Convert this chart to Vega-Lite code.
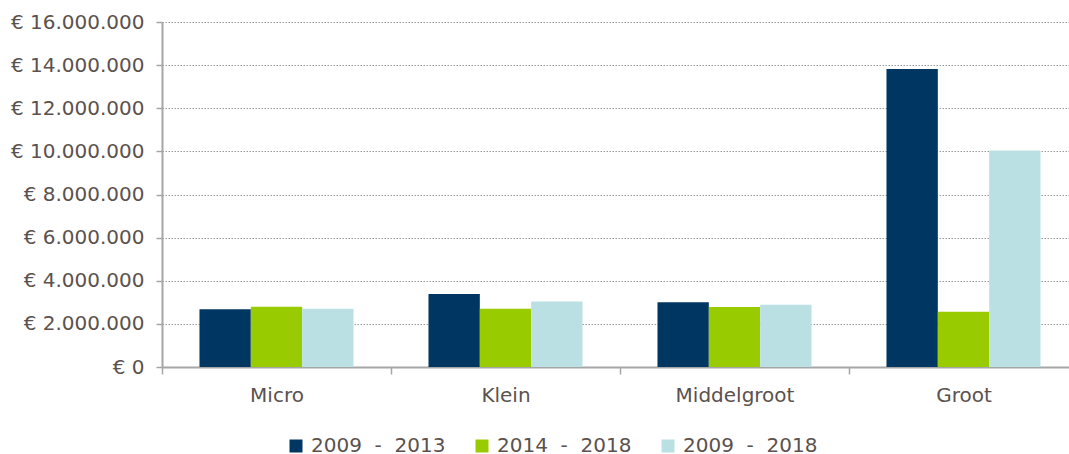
{
  "$schema": "https://vega.github.io/schema/vega-lite/v6.json",
  "width": 916,
  "height": 345,
  "autosize": {"type": "none"},
  "padding": {"left": 162, "top": 22, "right": 0, "bottom": 87},
  "background": "white",
  "data": {
    "values": [
      {"grootte": "Micro", "periode": "2009 - 2013", "bedrag": 2680000},
      {"grootte": "Micro", "periode": "2014 - 2018", "bedrag": 2800000},
      {"grootte": "Micro", "periode": "2009 - 2018", "bedrag": 2700000},
      {"grootte": "Klein", "periode": "2009 - 2013", "bedrag": 3390000},
      {"grootte": "Klein", "periode": "2014 - 2018", "bedrag": 2700000},
      {"grootte": "Klein", "periode": "2009 - 2018", "bedrag": 3040000},
      {"grootte": "Middelgroot", "periode": "2009 - 2013", "bedrag": 3000000},
      {"grootte": "Middelgroot", "periode": "2014 - 2018", "bedrag": 2780000},
      {"grootte": "Middelgroot", "periode": "2009 - 2018", "bedrag": 2890000},
      {"grootte": "Groot", "periode": "2009 - 2013", "bedrag": 13820000},
      {"grootte": "Groot", "periode": "2014 - 2018", "bedrag": 2560000},
      {"grootte": "Groot", "periode": "2009 - 2018", "bedrag": 10040000}
    ]
  },
  "mark": {"type": "bar"},
  "encoding": {
    "x": {
      "field": "grootte",
      "type": "nominal",
      "sort": ["Micro", "Klein", "Middelgroot", "Groot"],
      "scale": {"paddingInner": 0, "paddingOuter": 0},
      "axis": {
        "title": null,
        "labelAngle": 0,
        "tickBand": "extent",
        "ticks": true,
        "tickSize": 7,
        "tickColor": "#a6a6a6",
        "tickWidth": 1.5,
        "domainColor": "#a6a6a6",
        "domainWidth": 2,
        "labelFontSize": 20,
        "labelPadding": 11,
        "grid": false
      }
    },
    "xOffset": {
      "field": "periode",
      "type": "nominal",
      "sort": ["2009 - 2013", "2014 - 2018", "2009 - 2018"],
      "scale": {"paddingInner": 0, "paddingOuter": 0.73}
    },
    "y": {
      "field": "bedrag",
      "type": "quantitative",
      "scale": {"domain": [0, 16000000], "nice": false},
      "axis": {
        "title": null,
        "values": [0, 2000000, 4000000, 6000000, 8000000, 10000000, 12000000, 14000000, 16000000],
        "format": "$,d",
        "labelFontSize": 20,
        "labelPadding": 12,
        "tickSize": 6,
        "tickColor": "#a6a6a6",
        "tickWidth": 1.5,
        "domainColor": "#a6a6a6",
        "domainWidth": 2,
        "grid": true,
        "gridColor": "#9a9a9a",
        "gridDash": [1.5, 1.5],
        "gridWidth": 1
      }
    },
    "color": {
      "field": "periode",
      "type": "nominal",
      "sort": ["2009 - 2013", "2014 - 2018", "2009 - 2018"],
      "scale": {
        "domain": ["2009 - 2013", "2014 - 2018", "2009 - 2018"],
        "range": ["#003662", "#99cc00", "#bbe0e3"]
      },
      "legend": {
        "title": null,
        "orient": "none",
        "legendX": 124,
        "legendY": 414,
        "direction": "horizontal",
        "columns": 3,
        "symbolType": "square",
        "symbolSize": 169,
        "symbolStrokeWidth": 0,
        "labelFontSize": 20,
        "labelOffset": 5,
        "columnPadding": 26,
        "labelLimit": 300,
        "labelExpr": "replace(datum.label, ' - ', '\u00a0\u00a0-\u00a0\u00a0')"
      }
    }
  },
  "config": {
    "font": "DejaVu Sans",
    "locale": {
      "number": {
        "decimal": ",",
        "thousands": ".",
        "grouping": [3],
        "currency": ["€ ", ""]
      }
    },
    "axis": {"labelColor": "#5b514e", "labelFont": "DejaVu Sans"},
    "legend": {"labelColor": "#5b514e", "labelFont": "DejaVu Sans"},
    "view": {"stroke": null}
  }
}
